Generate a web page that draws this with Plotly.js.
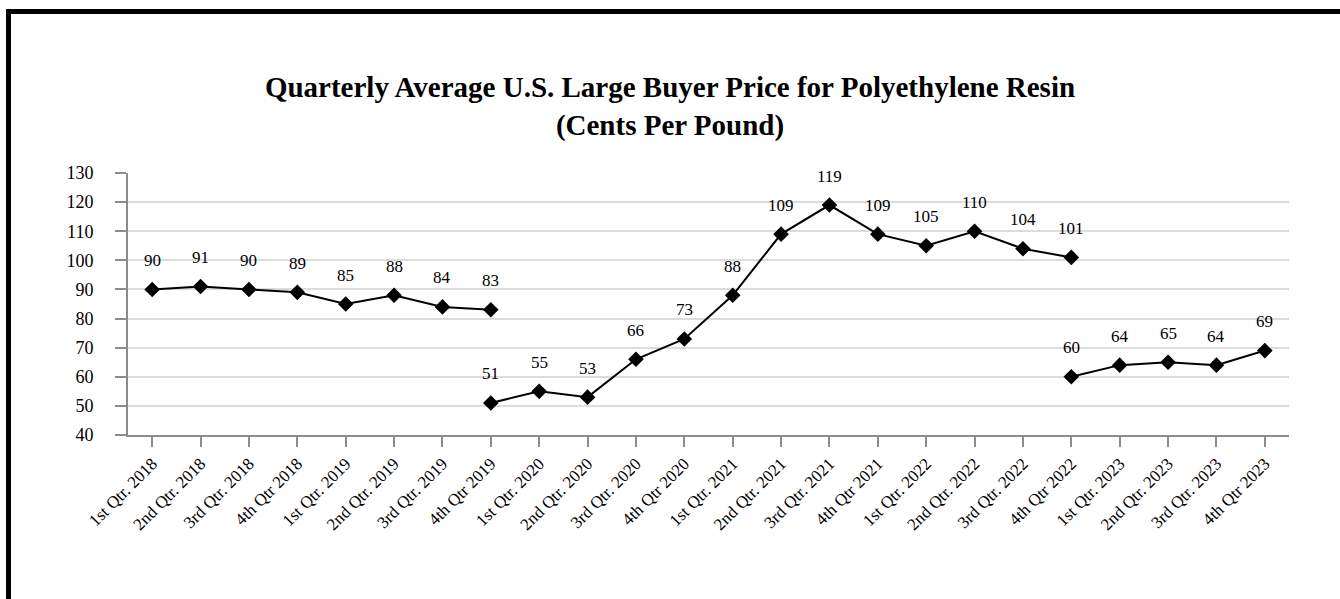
<!DOCTYPE html>
<html>
<head>
<meta charset="utf-8">
<script src="https://cdn.plot.ly/plotly-3.0.1.min.js"></script>
<style>
  html, body { margin: 0; padding: 0; background: #fff; }
  #wrap { position: relative; width: 1340px; height: 599px; overflow: hidden; }
  #chart { position: absolute; left: 0; top: 0; width: 1340px; height: 599px; }
  #frame { position: absolute; left: 6px; top: 9px; width: 1400px; height: 700px;
           border-left: 5px solid #000; border-top: 5px solid #000; pointer-events: none; }
</style>
</head>
<body>
<div id="wrap">
  <div id="chart"></div>
  <div id="frame"></div>
</div>
<script>
// Category (x) tick labels
const categories = [
  "1st Qtr. 2018", "2nd Qtr. 2018", "3rd Qtr. 2018", "4th Qtr 2018",
  "1st Qtr. 2019", "2nd Qtr. 2019", "3rd Qtr. 2019", "4th Qtr 2019",
  "1st Qtr. 2020", "2nd Qtr. 2020", "3rd Qtr. 2020", "4th Qtr 2020",
  "1st Qtr. 2021", "2nd Qtr. 2021", "3rd Qtr. 2021", "4th Qtr 2021",
  "1st Qtr. 2022", "2nd Qtr. 2022", "3rd Qtr. 2022", "4th Qtr 2022",
  "1st Qtr. 2023", "2nd Qtr. 2023", "3rd Qtr. 2023", "4th Qtr 2023"
];

// Segment 1: 1st Qtr. 2018 .. 4th Qtr 2019
const seg1Cats = categories.slice(0, 8);
const seg1Vals = [90, 91, 90, 89, 85, 88, 84, 83];

// Segment 2: 4th Qtr 2019 .. 4th Qtr 2022
const seg2Cats = categories.slice(7, 20);
const seg2Vals = [51, 55, 53, 66, 73, 88, 109, 119, 109, 105, 110, 104, 101];

// Segment 3: 4th Qtr 2022 .. 4th Qtr 2023
const seg3Cats = categories.slice(19, 24);
const seg3Vals = [60, 64, 65, 64, 69];

const yTicks = [40, 50, 60, 70, 80, 90, 100, 110, 120, 130];

const FONT = "Liberation Serif";

function seg(xs, ys) {
  return {
    type: "scatter", mode: "lines+markers",
    x: xs, y: ys,
    line: { color: "#000", width: 2 },
    marker: { symbol: "diamond", size: 12, color: "#000" },
    hoverinfo: "x+y", showlegend: false, cliponaxis: false
  };
}

const segments = [[seg1Cats, seg1Vals], [seg2Cats, seg2Vals], [seg3Cats, seg3Vals]];
const traces = segments.map(s => seg(s[0], s[1]));

const annotations = [];
segments.forEach(s => {
  s[0].forEach((c, i) => {
    annotations.push({
      x: c, y: s[1][i], xref: "x", yref: "y",
      text: String(s[1][i]), showarrow: false,
      yshift: 29, font: { family: FONT, size: 17, color: "#000" }
    });
  });
});

const layout = {
  width: 1340, height: 599,
  font: { family: FONT, size: 17, color: "#000" },
  paper_bgcolor: "rgba(0,0,0,0)", plot_bgcolor: "#fff",
  margin: { l: 128, r: 51, t: 173, b: 164 },
  title: {
    text: "<b>Quarterly Average U.S. Large Buyer Price for Polyethylene Resin<br>(Cents Per Pound)</b>",
    font: { family: FONT, size: 29, color: "#000" },
    x: 0.5, xanchor: "center", xref: "container",
    y: 1 - 97 / 599, yanchor: "top", yref: "container"
  },
  xaxis: {
    type: "category", categoryorder: "array", categoryarray: categories,
    range: [-0.5, 23.5],
    tickangle: -45,
    ticks: "outside", ticklen: 10, tickwidth: 2, tickcolor: "#8c8c8c",
    showline: true, linecolor: "#8c8c8c", linewidth: 2,
    showgrid: false, zeroline: false,
    tickfont: { family: FONT, size: 17, color: "#000" },
    fixedrange: true
  },
  yaxis: {
    range: [40, 130],
    tickvals: yTicks, ticktext: yTicks.map(String),
    ticks: "outside", ticklen: 11, tickwidth: 2, tickcolor: "#8c8c8c",
    ticklabelstandoff: 18,
    showline: true, linecolor: "#8c8c8c", linewidth: 2,
    showgrid: true, gridcolor: "#dcdcdc", gridwidth: 2,
    zeroline: false,
    tickfont: { family: FONT, size: 18, color: "#000" },
    fixedrange: true
  },
  shapes: [{
    type: "line", xref: "paper", yref: "paper",
    x0: -11 / 1161, x1: 0, y0: 0, y1: 0,
    line: { color: "#8c8c8c", width: 2 }
  }],
  annotations: annotations
};

Plotly.newPlot("chart", traces, layout, { displayModeBar: false, staticPlot: true });
</script>
</body>
</html>
